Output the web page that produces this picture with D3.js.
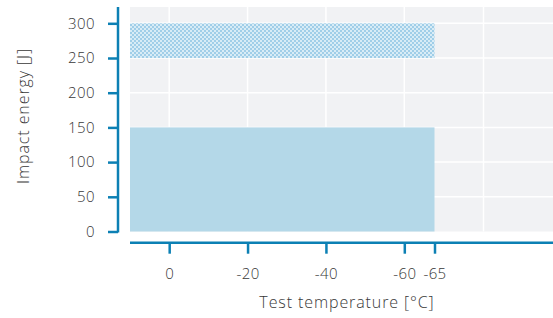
<!DOCTYPE html>
<html>
<head>
<meta charset="utf-8">
<script src="https://cdn.jsdelivr.net/npm/d3@7"></script>
<style>
  body { margin: 0; background: #fff; }
  text { font-family: "Open Sans", "Noto Sans", sans-serif; font-weight: 300; fill: #383838; }
</style>
</head>
<body>
<div id="vis"></div>
<script>
// data
var xTicks = [0, -20, -40, -60, -65];
var xGrid = [0, -20, -40, -60, -80];
var yTicks = [0, 50, 100, 150, 200, 250, 300];
// bars: temperature range and energy range
var bars = [
  { from: 10, to: -65, lo: 0, hi: 150, kind: "solid" },
  { from: 10, to: -65, lo: 250, hi: 300, kind: "dots" }
];

var width = 553;
var height = 318;

var svg = d3.select("#vis")
  .append("svg")
  .attr("width", width)
  .attr("height", height);

// x axis is not evenly spaced past -60 in the original
var x = d3.scaleLinear()
  .domain([10, -60, -65, -80, -101])
  .range([130, 404.3, 434.5, 483.5, 553]);

var y = d3.scaleLinear()
  .domain([0, 323.5])
  .range([231.5, 7]);

var axisColor = "#0c80b4";

// dotted pattern for the upper bar
var defs = svg.append("defs");
var pat = defs.append("pattern")
  .attr("id", "dots")
  .attr("patternUnits", "userSpaceOnUse")
  .attr("width", 4)
  .attr("height", 4);
pat.append("rect").attr("width", 4).attr("height", 4).attr("fill", "#a0cee8");
pat.append("rect").attr("x", 0).attr("y", 0).attr("width", 2).attr("height", 2).attr("fill", "#d8ecf6");
pat.append("rect").attr("x", 2).attr("y", 2).attr("width", 2).attr("height", 2).attr("fill", "#d8ecf6");

// panel background
svg.append("rect")
  .attr("x", x(10))
  .attr("y", y(323.5))
  .attr("width", x(-101) - x(10))
  .attr("height", y(0) - y(323.5))
  .attr("fill", "#f1f2f4");

// grid
svg.selectAll(".vgrid")
  .data(xGrid)
  .enter()
  .append("line")
  .attr("class", "vgrid")
  .attr("x1", function(d) { return x(d); })
  .attr("x2", function(d) { return x(d); })
  .attr("y1", y(323.5))
  .attr("y2", y(0))
  .attr("stroke", "#fff")
  .attr("stroke-width", 1.5);

svg.selectAll(".hgrid")
  .data(yTicks.slice(1))
  .enter()
  .append("line")
  .attr("class", "hgrid")
  .attr("x1", x(10))
  .attr("x2", x(-101))
  .attr("y1", function(d) { return y(d); })
  .attr("y2", function(d) { return y(d); })
  .attr("stroke", "#fff")
  .attr("stroke-width", 1.5);

// bars
svg.selectAll(".bar")
  .data(bars)
  .enter()
  .append("rect")
  .attr("class", "bar")
  .attr("x", function(d) { return x(d.from); })
  .attr("width", function(d) { return x(d.to) - x(d.from); })
  .attr("y", function(d) { return y(d.hi); })
  .attr("height", function(d) { return y(d.lo) - y(d.hi); })
  .attr("fill", function(d) { return d.kind === "dots" ? "url(#dots)" : "#b4d8e8"; });

// y axis
var yAxis = d3.axisLeft(y)
  .tickValues(yTicks)
  .tickSize(10)
  .tickPadding(13);
var gy = svg.append("g")
  .attr("transform", "translate(118,0)")
  .call(yAxis);
gy.select(".domain").remove();
gy.append("line")
  .attr("x1", 0).attr("x2", 0)
  .attr("y1", y(323.5)).attr("y2", y(0) + 1)
  .attr("stroke", axisColor)
  .attr("stroke-width", 2.5);
gy.selectAll(".tick line").attr("stroke", axisColor).attr("stroke-width", 2.5);
gy.selectAll(".tick text")
  .style("font-size", "15px")
  .style("letter-spacing", "0.4px")
  .attr("fill", "#383838");

// x axis
var xAxis = d3.axisBottom(x)
  .tickValues(xTicks)
  .tickFormat(d3.format("d"))
  .tickSize(11)
  .tickPadding(15);
var gx = svg.append("g")
  .attr("transform", "translate(0,242.7)")
  .call(xAxis);
gx.select(".domain").remove();
gx.append("line")
  .attr("x1", x(10)).attr("x2", width)
  .attr("y1", 0).attr("y2", 0)
  .attr("stroke", axisColor)
  .attr("stroke-width", 2.5);
gx.selectAll(".tick line").attr("stroke", axisColor).attr("stroke-width", 2.5);
gx.selectAll(".tick text")
  .style("font-size", "15px")
  .style("letter-spacing", "0.4px")
  .attr("fill", "#383838")
  .text(function(d) { return d === 0 ? "0" : "-" + Math.abs(d); });

// axis titles
svg.append("text")
  .attr("x", 347)
  .attr("y", 308)
  .attr("text-anchor", "middle")
  .style("font-size", "16px")
  .style("letter-spacing", "0.9px")
  .text("Test temperature [°C]");

svg.append("text")
  .attr("transform", "translate(29,116) rotate(-90)")
  .attr("text-anchor", "middle")
  .style("font-size", "16px")
  .style("letter-spacing", "0.9px")
  .text("Impact energy [J]");
</script>
</body>
</html>
